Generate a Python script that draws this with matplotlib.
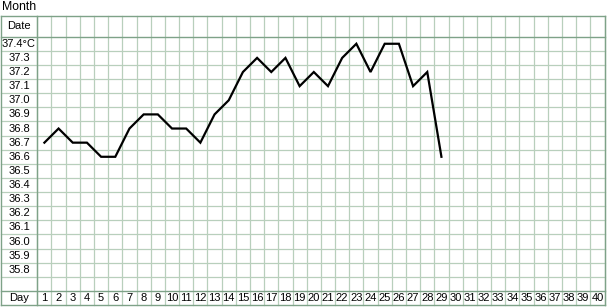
"""Basal body temperature chart: a green grid with the daily readings drawn as a black line."""

import matplotlib.pyplot as plt

# Data
days = list(range(1, 30))
temps = [
    36.7, 36.8, 36.7, 36.7, 36.6, 36.6, 36.8, 36.9, 36.9, 36.8,
    36.8, 36.7, 36.9, 37.0, 37.2, 37.3, 37.2, 37.3, 37.1, 37.2,
    37.1, 37.3, 37.4, 37.2, 37.4, 37.4, 37.1, 37.2, 36.6,
]
day_labels = [str(d) for d in range(1, 41)]
temp_labels = ["37.4°C", "37.3", "37.2", "37.1", "37.0", "36.9", "36.8", "36.7",
               "36.6", "36.5", "36.4", "36.3", "36.2", "36.1", "36.0", "35.9", "35.8"]
temp_rows = [37.4 - 0.1 * i for i in range(len(temp_labels))]

plt.rcParams["font.family"] = ["Liberation Sans", "DejaVu Sans"]

W, H = 607, 307
fig = plt.figure(figsize=(W / 100, H / 100), dpi=100)

# pixel layout of the grid
left_px, label_px, right_px = 0.8, 37.3, 604.5
top_px, temp_top_px, day_top_px, bottom_px = 16.0, 36.7, 291.0, 305.5

ax = fig.add_axes([
    label_px / W,
    (H - day_top_px) / H,
    (right_px - label_px) / W,
    (day_top_px - temp_top_px) / H,
])
n_cols = len(day_labels)
y_top, y_bot = 37.45, 35.65
ax.set_xlim(0.5, n_cols + 0.5)
ax.set_ylim(y_bot, y_top)
ax.axis("off")

# conversions for the parts drawn outside the axes
col_w = (right_px - label_px) / n_cols
row_h = (day_top_px - temp_top_px) / 18
x_left = 0.5 - (label_px - left_px) / col_w
x_label = 0.5 - (label_px - left_px) / col_w / 2
y_date_top = y_top + (temp_top_px - top_px) / row_h * 0.1
y_day_bot = y_bot - (bottom_px - day_top_px) / row_h * 0.1

grid_color = "#b8cfbc"
border_color = "#7ea288"

# vertical grid lines
for k in range(n_cols + 1):
    ax.plot([0.5 + k, 0.5 + k], [y_day_bot, y_date_top], color=grid_color,
            linewidth=0.9, clip_on=False, zorder=1)
# horizontal grid lines
for k in range(1, 18):
    y = y_bot + 0.1 * k
    ax.plot([x_left, n_cols + 0.5], [y, y], color=grid_color,
            linewidth=0.9, clip_on=False, zorder=1)

# borders
for y in [y_date_top, y_top, y_bot, y_day_bot]:
    ax.plot([x_left, n_cols + 0.5], [y, y], color=border_color,
            linewidth=1.0, clip_on=False, zorder=2)
for x in [x_left, 0.5, n_cols + 0.5]:
    ax.plot([x, x], [y_day_bot, y_date_top], color=border_color,
            linewidth=1.0, clip_on=False, zorder=2)

# labels
fs = 8.0
ax.text(x_label, (y_top + y_date_top) / 2, "Date", ha="center", va="center",
        fontsize=fs, clip_on=False)
ax.text(x_label, (y_bot + y_day_bot) / 2, "Day", ha="center", va="center",
        fontsize=fs, clip_on=False)
for t, lab in zip(temp_rows, temp_labels):
    ax.text(x_label, t, lab, ha="center", va="center", fontsize=fs, clip_on=False)
for i, lab in enumerate(day_labels):
    ax.text(i + 1, (y_bot + y_day_bot) / 2, lab, ha="center", va="center",
            fontsize=fs, clip_on=False)

fig.text(2 / W, 1 - 7.5 / H, "Month", ha="left", va="center", fontsize=8.8)

# temperature line
ax.plot(days, temps, color="black", linewidth=1.6, solid_joinstyle="miter", zorder=3)

fig.savefig("out.png", dpi=100)
